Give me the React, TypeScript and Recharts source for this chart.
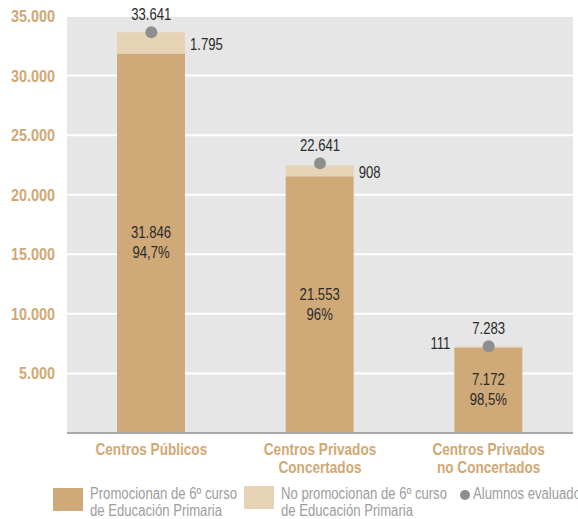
import React from "react";
import {
  ComposedChart,
  Bar,
  Line,
  XAxis,
  YAxis,
  CartesianGrid,
  LabelList,
} from "recharts";

const categories = [
  ["Centros Públicos"],
  ["Centros Privados", "Concertados"],
  ["Centros Privados", "no Concertados"],
];
const promocionan = [31846, 21553, 7172];
const noPromocionan = [1795, 908, 111];
const evaluados = [33641, 22641, 7283];
const porcentajes = ["94,7%", "96%", "98,5%"];
const yTicks = [5000, 10000, 15000, 20000, 25000, 30000, 35000];

// no condensed font installed, so Liberation Sans gets squeezed horizontally
const FONT = '"Liberation Sans", Arial, sans-serif';
const DARK = "#cfa977";
const LIGHT = "#e6d2b4";
const DOT = "#8f8f90";
const TAN_TEXT = "#d1a873";
const LEGEND_TEXT = "#9d9d9d";

const data = categories.map((c, i) => ({
  name: c.join(" "),
  promocionan: promocionan[i],
  noPromocionan: noPromocionan[i],
  evaluados: evaluados[i],
}));

const fmt = (v: number) => String(v).replace(/\B(?=(\d{3})+(?!\d))/g, ".");

// text squeezed along x around its anchor point
const Narrow = ({ x, y, sx = 0.82, anchor = "middle", bold = false, fill = "#2b2b2b", children }: any) => (
  <text
    transform={`translate(${x},${y}) scale(${sx},1)`}
    x={0}
    y={0}
    textAnchor={anchor}
    fill={fill}
    fontSize={16}
    fontWeight={bold ? "bold" : "normal"}
    fontFamily={FONT}
  >
    {children}
  </text>
);

const YTick = (props: any) => {
  const { x, y, payload } = props;
  return (
    <Narrow x={x} y={y + 6} sx={0.9} anchor="end" bold fill={TAN_TEXT}>
      {fmt(payload.value)}
    </Narrow>
  );
};

const XTick = (props: any) => {
  const { x, y, index } = props;
  const lines = categories[index] || [];
  return (
    <g>
      {lines.map((l, i) => (
        <Narrow key={i} x={x} y={y + 14 + i * 18} sx={0.85} bold fill={TAN_TEXT}>
          {l}
        </Narrow>
      ))}
    </g>
  );
};

const DarkLabel = (props: any) => {
  const { x, y, width, height, index, value } = props;
  const cx = x + width / 2;
  const cy = y + height / 2;
  return (
    <g>
      <Narrow x={cx} y={cy - 5}>{fmt(value)}</Narrow>
      <Narrow x={cx} y={cy + 15}>{porcentajes[index]}</Narrow>
    </g>
  );
};

const LightLabel = (props: any) => {
  const { x, y, width, height, index, value } = props;
  const left = index === 2;
  return (
    <Narrow
      x={left ? x - 4 : x + width + 5}
      y={y + height / 2 + (left ? 2 : 7)}
      anchor={left ? "end" : "start"}
    >
      {fmt(value)}
    </Narrow>
  );
};

const TopLabel = (props: any) => {
  const { x, y, width, value } = props;
  return (
    <Narrow x={x + width / 2} y={y - 12}>
      {fmt(value)}
    </Narrow>
  );
};

const legendText: React.CSSProperties = {
  position: "absolute",
  fontFamily: FONT,
  fontSize: 16,
  lineHeight: "17px",
  color: LEGEND_TEXT,
  whiteSpace: "nowrap",
  transform: "scaleX(0.82)",
  transformOrigin: "left top",
};

export default function App() {
  return (
    <div
      style={{
        position: "absolute",
        left: 0,
        top: 0,
        width: 578,
        height: 519,
        overflow: "hidden",
        background: "#fff",
      }}
    >
      <ComposedChart
        width={578}
        height={519}
        data={data}
        margin={{ top: 16, right: 5, bottom: 0, left: 0 }}
      >
        <CartesianGrid
          fill="#e6e6e6"
          stroke="#ffffff"
          strokeWidth={2}
          vertical={false}
          horizontalValues={yTicks}
        />
        <YAxis
          width={67}
          domain={[0, 35000]}
          ticks={yTicks}
          axisLine={false}
          tickLine={false}
          tickSize={0}
          tickMargin={12}
          tick={<YTick />}
          interval={0}
        />
        <XAxis
          dataKey="name"
          xAxisId="cat"
          axisLine={false}
          tickLine={false}
          tick={<XTick />}
          interval={0}
          height={86}
        />
        <XAxis
          xAxisId="bounds"
          type="number"
          domain={[0, 3]}
          ticks={[0, 1, 2, 3]}
          allowDataOverflow
          mirror
          tick={false}
          tickSize={10}
          axisLine={{ stroke: "#a8a8a8", strokeWidth: 2 }}
          tickLine={{ stroke: "#a8a8a8", strokeWidth: 2 }}
        />
        <Bar
          xAxisId="cat"
          dataKey="promocionan"
          stackId="a"
          fill={DARK}
          barSize={68}
          isAnimationActive={false}
        >
          <LabelList dataKey="promocionan" content={<DarkLabel />} />
        </Bar>
        <Bar
          xAxisId="cat"
          dataKey="noPromocionan"
          stackId="a"
          fill={LIGHT}
          barSize={68}
          isAnimationActive={false}
        >
          <LabelList dataKey="noPromocionan" content={<LightLabel />} />
        </Bar>
        <Line
          xAxisId="cat"
          dataKey="evaluados"
          stroke="none"
          dot={{ r: 6, fill: DOT, stroke: "none" }}
          activeDot={false}
          isAnimationActive={false}
        >
          <LabelList dataKey="evaluados" content={<TopLabel />} />
        </Line>
      </ComposedChart>

      <div style={{ position: "absolute", left: 53, top: 488, width: 30, height: 23, background: DARK }} />
      <div style={{ ...legendText, left: 90, top: 485 }}>
        Promocionan de 6º curso
        <br />
        de Educación Primaria
      </div>
      <div style={{ position: "absolute", left: 244, top: 486, width: 30, height: 23, background: LIGHT }} />
      <div style={{ ...legendText, left: 281, top: 485 }}>
        No promocionan de 6º curso
        <br />
        de Educación Primaria
      </div>
      <div
        style={{
          position: "absolute",
          left: 460,
          top: 490,
          width: 10,
          height: 10,
          borderRadius: 5,
          background: DOT,
        }}
      />
      <div style={{ ...legendText, left: 473, top: 485 }}>Alumnos evaluados</div>
    </div>
  );
}
